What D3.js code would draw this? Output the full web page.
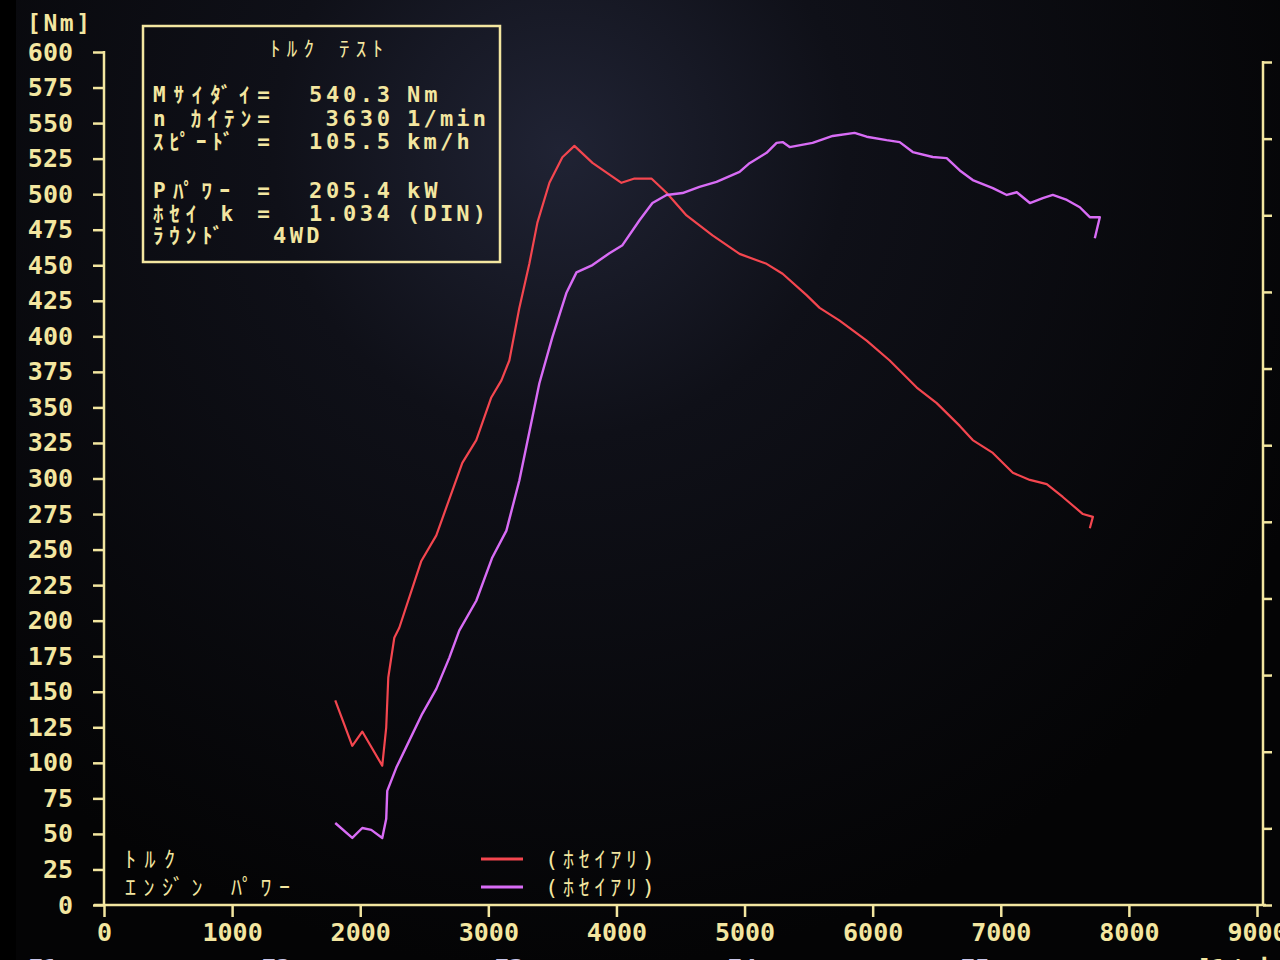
<!DOCTYPE html>
<html>
<head>
<meta charset="utf-8">
<script src="https://cdn.jsdelivr.net/npm/d3@7"></script>
<style>
  html, body { margin: 0; padding: 0; background: #000; }
  svg { display: block; }
</style>
</head>
<body>
<svg id="chart" width="1280" height="960"></svg>
<script>
// ---------------- DATA ----------------
const xTicks = [0, 1000, 2000, 3000, 4000, 5000, 6000, 7000, 8000, 9000];
const yTicks = [0, 25, 50, 75, 100, 125, 150, 175, 200, 225, 250, 275, 300, 325, 350, 375, 400, 425, 450, 475, 500, 525, 550, 575, 600];
const powerTicks = [0, 20, 40, 60, 80, 100, 120, 140, 160, 180, 200, 220];

// Torque (Nm) vs engine speed (1/min)
const torqueRpm = [1805, 1938, 2016, 2172, 2203, 2219, 2266, 2305, 2477, 2594, 2797, 2906, 3023, 3102, 3164, 3242, 3320, 3383, 3477, 3578, 3672, 3813, 4039, 4141, 4273, 4391, 4547, 4750, 4961, 5172, 5297, 5484, 5586, 5742, 5953, 6133, 6344, 6500, 6680, 6781, 6938, 7094, 7227, 7359, 7484, 7641, 7719, 7695];
const torqueNm  = [144, 112, 122, 98, 125, 160, 188, 195, 242, 260, 311, 327, 357, 369, 383, 420, 451, 480, 508, 526, 534, 522, 508, 511, 511, 501, 485, 471, 458, 451, 444, 429, 420, 411, 397, 383, 364, 353, 337, 327, 318, 304, 299, 296, 287, 275, 273, 265];

// Engine power (kW) vs engine speed (1/min)
const powerRpm = [1805, 1938, 2016, 2086, 2172, 2203, 2211, 2281, 2383, 2484, 2594, 2695, 2773, 2906, 3031, 3141, 3242, 3344, 3398, 3500, 3609, 3688, 3813, 3945, 4047, 4180, 4281, 4391, 4516, 4648, 4781, 4961, 5039, 5172, 5250, 5297, 5352, 5531, 5688, 5859, 5953, 6109, 6211, 6313, 6469, 6578, 6680, 6781, 6938, 7047, 7125, 7227, 7328, 7406, 7516, 7617, 7695, 7773, 7734];
const powerKw  = [21.4, 17.5, 20.1, 19.6, 17.5, 22.5, 29.8, 35.8, 42.9, 49.9, 56.4, 64.5, 71.6, 79.4, 90.7, 97.7, 110.8, 127.3, 136.1, 148.2, 159.7, 165.1, 167.0, 170.1, 172.2, 178.7, 183.2, 185.3, 185.8, 187.4, 188.7, 191.3, 193.6, 196.3, 198.9, 199.1, 197.8, 198.9, 200.7, 201.5, 200.5, 199.6, 199.1, 196.5, 195.2, 194.9, 191.7, 189.2, 187.1, 185.3, 186.0, 183.2, 184.5, 185.3, 184.0, 182.1, 179.5, 179.5, 174.0];

// Info box texts
const boxTitle = "ﾄﾙｸ ﾃｽﾄ";
const boxLabels = ["Mｻｲﾀﾞｲ=", "n ｶｲﾃﾝ=", "ｽﾋﾟｰﾄﾞ =", "Pﾊﾟﾜｰ =", "ﾎｾｲ k =", "ﾗｳﾝﾄﾞ"];
const boxValues = ["540.3", "3630", "105.5", "205.4", "1.034", ""];
const boxUnits  = ["Nm", "1/min", "km/h", "kW", "(DIN)", "4WD"];
const legendNames = ["ﾄﾙｸ", "ｴﾝｼﾞﾝ ﾊﾟﾜｰ"];
const legendTags  = ["(ﾎｾｲｱﾘ)", "(ﾎｾｲｱﾘ)"];
const yUnit = "[Nm]";
const xUnit = "[1/min]";
const fKeys = ["F1", "F2", "F3", "F4", "F5"];

// ---------------- STYLE ----------------
const YEL = "#f3e6a0";
const RED = "#f4464f";
const MAG = "#d86cf5";
const MONO = "'DejaVu Sans Mono', 'Noto Sans CJK JP', monospace";

const svg = d3.select("#chart");

// background
const defs = svg.append("defs");
const rg = defs.append("radialGradient").attr("id", "bg")
  .attr("cx", 560).attr("cy", 150).attr("r", 820).attr("gradientUnits", "userSpaceOnUse");
rg.append("stop").attr("offset", "0").attr("stop-color", "#202334");
rg.append("stop").attr("offset", "0.35").attr("stop-color", "#0f1018");
rg.append("stop").attr("offset", "1").attr("stop-color", "#040405");
svg.append("rect").attr("width", 1280).attr("height", 960).attr("fill", "url(#bg)");
svg.append("rect").attr("width", 16).attr("height", 960).attr("fill", "#000");

// scales
const x = d3.scaleLinear().domain([0, 9000]).range([104, 1257]);
const y = d3.scaleLinear().domain([0, 600]).range([905, 52]);
const yP = d3.scaleLinear().domain([0, 220]).range([905, 62]);

// left axis
const gy = svg.append("g").attr("transform", `translate(${x(0)},0)`)
  .call(d3.axisLeft(y).tickValues(yTicks).tickSize(11).tickSizeOuter(0).tickPadding(20).tickFormat(d3.format("d")));
gy.select(".domain").remove();
gy.selectAll("line").attr("stroke", YEL).attr("stroke-width", 2.5);
gy.selectAll("text").attr("fill", YEL).attr("font-family", MONO).attr("font-weight", "bold").attr("font-size", 25);
svg.append("line").attr("x1", x(0)).attr("x2", x(0)).attr("y1", y(600) - 1).attr("y2", y(0))
  .attr("stroke", YEL).attr("stroke-width", 2.5);

// bottom axis
const gx = svg.append("g").attr("transform", `translate(0,${y(0)})`)
  .call(d3.axisBottom(x).tickValues(xTicks).tickSize(12).tickSizeOuter(0).tickPadding(6).tickFormat(d3.format("d")));
gx.select(".domain").remove();
gx.selectAll("line").attr("stroke", YEL).attr("stroke-width", 2.5);
gx.selectAll("text").attr("fill", YEL).attr("font-family", MONO).attr("font-weight", "bold").attr("font-size", 25);
svg.append("line").attr("x1", 94).attr("x2", 1266).attr("y1", y(0)).attr("y2", y(0))
  .attr("stroke", YEL).attr("stroke-width", 2.5);

// right (power) axis
const rx = 1263;
const gr = svg.append("g").attr("transform", `translate(${rx},0)`)
  .call(d3.axisRight(yP).tickValues(powerTicks).tickSize(9).tickSizeOuter(0).tickFormat(""));
gr.select(".domain").remove();
gr.selectAll("line").attr("stroke", YEL).attr("stroke-width", 2.5);
svg.append("line").attr("x1", rx).attr("x2", rx).attr("y1", yP(220) - 1).attr("y2", y(0))
  .attr("stroke", YEL).attr("stroke-width", 2.5);

// unit labels
svg.append("text").attr("x", 27).attr("y", 31).text(yUnit)
  .attr("fill", YEL).attr("font-family", MONO).attr("font-weight", "bold").attr("font-size", 23)
  .attr("textLength", 63).attr("lengthAdjust", "spacing");
svg.append("text").attr("x", 1196).attr("y", 977).text(xUnit)
  .attr("fill", YEL).attr("font-family", MONO).attr("font-weight", "bold").attr("font-size", 25);
svg.selectAll(".fkey").data(fKeys).join("text").attr("class", "fkey")
  .attr("x", (d, i) => 28 + i * 233).attr("y", 977).text(d => d)
  .attr("fill", "#c9c6e8").attr("font-family", MONO).attr("font-weight", "bold").attr("font-size", 25);

// curves
const line = d3.line().x(d => x(d[0])).y(d => d[1]);
const torquePts = torqueRpm.map((r, i) => [r, y(torqueNm[i])]);
const powerPts = powerRpm.map((r, i) => [r, yP(powerKw[i])]);
svg.append("path").attr("d", line(torquePts)).attr("fill", "none")
  .attr("stroke", RED).attr("stroke-width", 2.2).attr("stroke-linejoin", "round");
svg.append("path").attr("d", line(powerPts)).attr("fill", "none")
  .attr("stroke", MAG).attr("stroke-width", 2.4).attr("stroke-linejoin", "round");

// info box
svg.append("rect").attr("x", 143).attr("y", 26).attr("width", 357).attr("height", 236)
  .attr("fill", "none").attr("stroke", YEL).attr("stroke-width", 2.5);
const tAttr = (sel, size) => sel.attr("fill", YEL).attr("font-family", MONO).attr("font-weight", "bold").attr("font-size", size);

tAttr(svg.append("text").attr("x", 270).attr("y", 56).text(boxTitle), 21)
  .attr("font-weight", "normal").attr("textLength", 113).attr("lengthAdjust", "spacing");

const rowY = [102, 126, 149, 198, 221, 243];
const labelLen = [117, 117, 117, 117, 117, 70];
boxLabels.forEach((lab, i) => {
  tAttr(svg.append("text").attr("x", 153).attr("y", rowY[i]).text(lab), 21)
    .attr("textLength", labelLen[i]).attr("lengthAdjust", "spacing");
  if (boxValues[i]) tAttr(svg.append("text").attr("x", 390).attr("y", rowY[i]).attr("text-anchor", "end").text(boxValues[i]), 22)
    .attr("textLength", boxValues[i].length * 16.6 - 2).attr("lengthAdjust", "spacing");
});
boxUnits.forEach((u, i) => {
  const ux = i === 5 ? 273 : 407;
  tAttr(svg.append("text").attr("x", ux).attr("y", rowY[i]).text(u), 22)
    .attr("textLength", u.length * 16.2 - 2).attr("lengthAdjust", "spacing");
});

// legend
const legY = [859, 887];
const legLen = [50, 165];
legendNames.forEach((n, i) => {
  tAttr(svg.append("text").attr("x", 125).attr("y", legY[i] + 8).text(n), 22)
    .attr("font-weight", "normal").attr("textLength", legLen[i]).attr("lengthAdjust", "spacing");
});
[RED, MAG].forEach((c, i) => {
  svg.append("line").attr("x1", 481).attr("x2", 523).attr("y1", legY[i]).attr("y2", legY[i])
    .attr("stroke", c).attr("stroke-width", 3);
});
legendTags.forEach((t, i) => {
  tAttr(svg.append("text").attr("x", 545).attr("y", legY[i] + 8).text(t), 22)
    .attr("font-weight", "normal").attr("textLength", 110).attr("lengthAdjust", "spacing");
});
</script>
</body>
</html>
